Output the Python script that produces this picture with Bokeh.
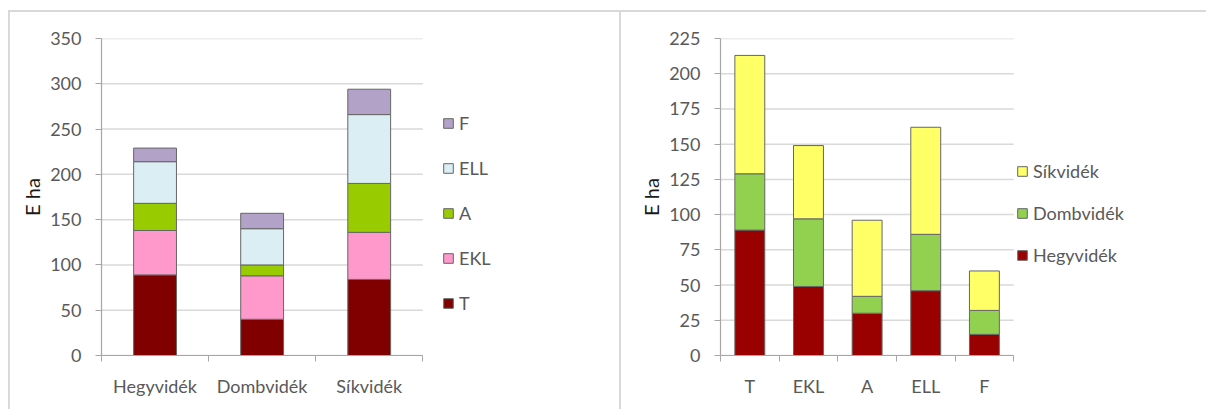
from bokeh.plotting import figure
from bokeh.models import (ColumnDataSource, Range1d, FixedTicker, Legend, LegendItem)
from bokeh.layouts import row
from bokeh.embed import file_html
from bokeh.resources import INLINE

# ---- data ----
regions = ["Hegyvidék", "Dombvidék", "Síkvidék"]
types = ["T", "EKL", "A", "ELL", "F"]
T = [89, 40, 84]
EKL = [49, 48, 52]
A = [30, 12, 54]
ELL = [46, 40, 76]
F = [15, 17, 28]

left_ticks = [0, 50, 100, 150, 200, 250, 300, 350]
right_ticks = [0, 25, 50, 75, 100, 125, 150, 175, 200, 225]

type_colors = ["#800000", "#FF99CC", "#99CC00", "#DAEEF3", "#B3A2C7"]
region_colors = ["#990000", "#92D050", "#FFFF66"]

FONT = "Lato"
TXT = "#595959"
GRID = "#D9D9D9"
AXIS = "#A6A6A6"
EDGE = "#666666"
BORDER = {"border-top": "2px solid #D9D9D9", "border-left": "2px solid #D9D9D9"}

by_type = {"T": T, "EKL": EKL, "A": A, "ELL": ELL, "F": F}


def style(p, ticks, cats):
    n = len(cats)
    p.xaxis.bounds = (0, n)
    p.xaxis.ticker = FixedTicker(ticks=[i + 0.5 for i in range(n)],
                                 minor_ticks=list(range(n + 1)))
    p.xaxis.major_label_overrides = {i + 0.5: c for i, c in enumerate(cats)}
    p.xaxis.major_tick_out = 0
    p.xaxis.major_tick_in = 0
    p.xaxis.minor_tick_out = 6
    p.xaxis.minor_tick_in = 0
    p.xaxis.minor_tick_line_color = AXIS
    p.xaxis.major_label_standoff = 13
    p.yaxis.ticker = FixedTicker(ticks=ticks)
    p.yaxis.major_tick_out = 6
    p.yaxis.major_tick_in = 0
    p.yaxis.minor_tick_line_color = None
    p.yaxis.major_label_standoff = 14
    p.yaxis.axis_label = "E ha"
    p.yaxis.axis_label_text_font = FONT
    p.yaxis.axis_label_text_font_size = "20px"
    p.yaxis.axis_label_text_font_style = "normal"
    p.yaxis.axis_label_text_color = "#1a1a1a"
    p.yaxis.axis_label_standoff = 3
    for ax in (p.xaxis, p.yaxis):
        ax.axis_line_color = AXIS
        ax.axis_line_width = 1.2
        ax.major_tick_line_color = AXIS
        ax.major_label_text_font = FONT
        ax.major_label_text_font_size = "18px"
        ax.major_label_text_color = TXT
    p.xgrid.grid_line_color = None
    p.ygrid.grid_line_color = None
    # horizontal gridlines spanning only the category area
    p.segment(x0=0, x1=n, y0=ticks, y1=ticks, line_color=GRID, line_width=1.5,
              level="underlay")
    p.outline_line_color = None
    p.background_fill_color = "white"
    p.border_fill_color = "white"


def make_legend(items, loc, spacing):
    return Legend(items=items, location=loc, background_fill_alpha=0,
                  border_line_color=None, padding=0, margin=0, glyph_width=12,
                  glyph_height=12, label_height=24, spacing=spacing,
                  label_standoff=5, label_text_font=FONT,
                  label_text_font_size="18px", label_text_color=TXT)


# ---- left chart ----
W1, ML1, MR1 = 611, 91, 10
frame1 = W1 - 2 - ML1 - MR1
cat_px1 = 320 / len(regions)
src1 = ColumnDataSource(dict(x=[i + 0.5 for i in range(len(regions))], **by_type))
p1 = figure(width=W1, height=399, output_backend="svg", toolbar_location=None,
            x_range=Range1d(0, frame1 / cat_px1), y_range=Range1d(0, 350),
            min_border_left=ML1, min_border_right=MR1, min_border_top=26,
            min_border_bottom=56, styles=BORDER)
style(p1, left_ticks, regions)
r1 = p1.vbar_stack(types, x="x", width=0.4, color=type_colors, source=src1,
                   line_color=EDGE, line_width=1)
items1 = [LegendItem(label=t, renderers=[r]) for t, r in zip(types, r1)][::-1]
p1.add_layout(make_legend(items1, (341, 40), 21), "center")

# ---- right chart ----
W2, ML2, MR2 = 587, 99, 10
frame2 = W2 - 2 - ML2 - MR2
cat_px2 = 292 / len(types)
by_region = {r: [by_type[t][i] for t in types] for i, r in enumerate(regions)}
src2 = ColumnDataSource(dict(x=[i + 0.5 for i in range(len(types))], **by_region))
p2 = figure(width=W2, height=399, output_backend="svg", toolbar_location=None,
            x_range=Range1d(0, frame2 / cat_px2), y_range=Range1d(0, 225),
            min_border_left=ML2, min_border_right=MR2, min_border_top=26,
            min_border_bottom=56, styles=BORDER)
style(p2, right_ticks, types)
r2 = p2.vbar_stack(regions, x="x", width=0.51, color=region_colors, source=src2,
                   line_color=EDGE, line_width=1)
items2 = [LegendItem(label=g, renderers=[r]) for g, r in zip(regions, r2)][::-1]
p2.add_layout(make_legend(items2, (296, 88), 18), "center")

layout = row(p1, p2, styles={"margin-left": "8px", "margin-top": "10px"})
open("out.html", "w").write(file_html(layout, INLINE))
